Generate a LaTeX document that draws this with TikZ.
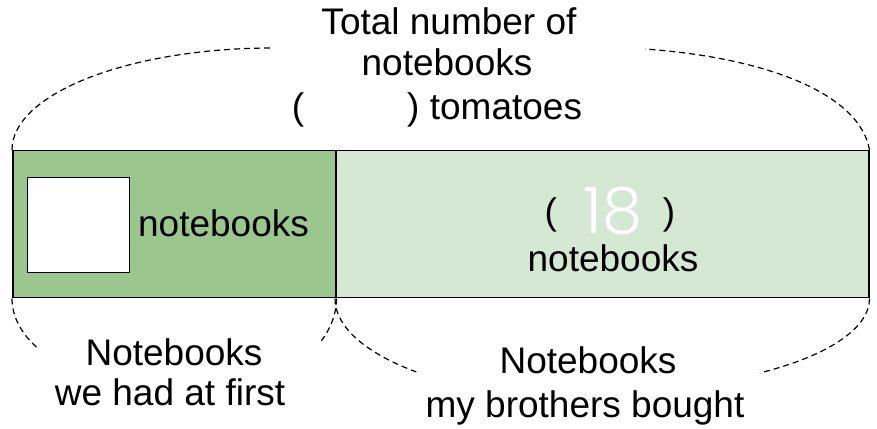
\documentclass[tikz,border=0pt]{standalone}
\usepackage{fontspec}
\setmainfont{Liberation Sans}
\newfontfamily\thinfont{Poppins}[UprightFont={* Light}]
\definecolor{darkg}{HTML}{9BC78F}
\definecolor{lightg}{HTML}{D5E8D4}
\begin{document}
\begin{tikzpicture}[x=1pt,y=1pt,
  sect/.style={draw=black, line width=1.5pt, inner sep=0pt, anchor=north west},
  brace/.style={dash pattern=on 6pt off 4pt, line width=1.2pt},
  txt/.style={font=\fontsize{37}{40}\selectfont, anchor=base, inner sep=0pt}]
\useasboundingbox (0,0) rectangle (877,428);
% bar
\node[sect, fill=darkg, minimum width=323pt, minimum height=147pt] (first) at (12,278) {};
\node[sect, fill=lightg, minimum width=533pt, minimum height=147pt] (second) at (335,278) {};
\node[sect, fill=white, line width=1.3pt, minimum width=102pt, minimum height=95pt] (blank) at (27,251) {};
% texts in bar
\node[txt] (firstlbl) at (223.5,191) {notebooks};
\node[txt] (par) at (610,203) {(\hspace{106pt})};
\node[font=\thinfont\fontsize{64}{64}\selectfont, text=white, anchor=base, inner sep=0pt] (num) at (613,194) {18};
\node[txt] (secondlbl) at (613,156) {notebooks};
% top texts
\node[txt] (t1) at (449,393) {Total number of};
\node[txt] (t2) at (447,352) {notebooks};
\node[txt] (t3) at (437,308) {(\hspace{103pt}) tomatoes};
% bottom texts
\node[txt] (b1) at (174,63) {Notebooks};
\node[txt] (b2) at (170,23) {we had at first};
\node[txt] (c1) at (588,55) {Notebooks};
\node[txt] (c2) at (585,11) {my brothers bought};
% braces
\draw[brace] (first.north west) arc[start angle=180, end angle=90, x radius=261pt, y radius=102pt];
\draw[brace] (second.north east) .. controls (860,333) and (770,370) .. (645,379);
\draw[brace] (first.south west) arc[start angle=180, end angle=212, x radius=161.5pt, y radius=92pt];
\draw[brace] (first.south east) arc[start angle=0, end angle=-25, x radius=161.5pt, y radius=100pt];
\draw[brace] (second.south west) arc[start angle=180, end angle=226, x radius=266pt, y radius=102pt];
\draw[brace] (second.south east) arc[start angle=0, end angle=-54, x radius=266pt, y radius=92pt];
\end{tikzpicture}
\end{document}
